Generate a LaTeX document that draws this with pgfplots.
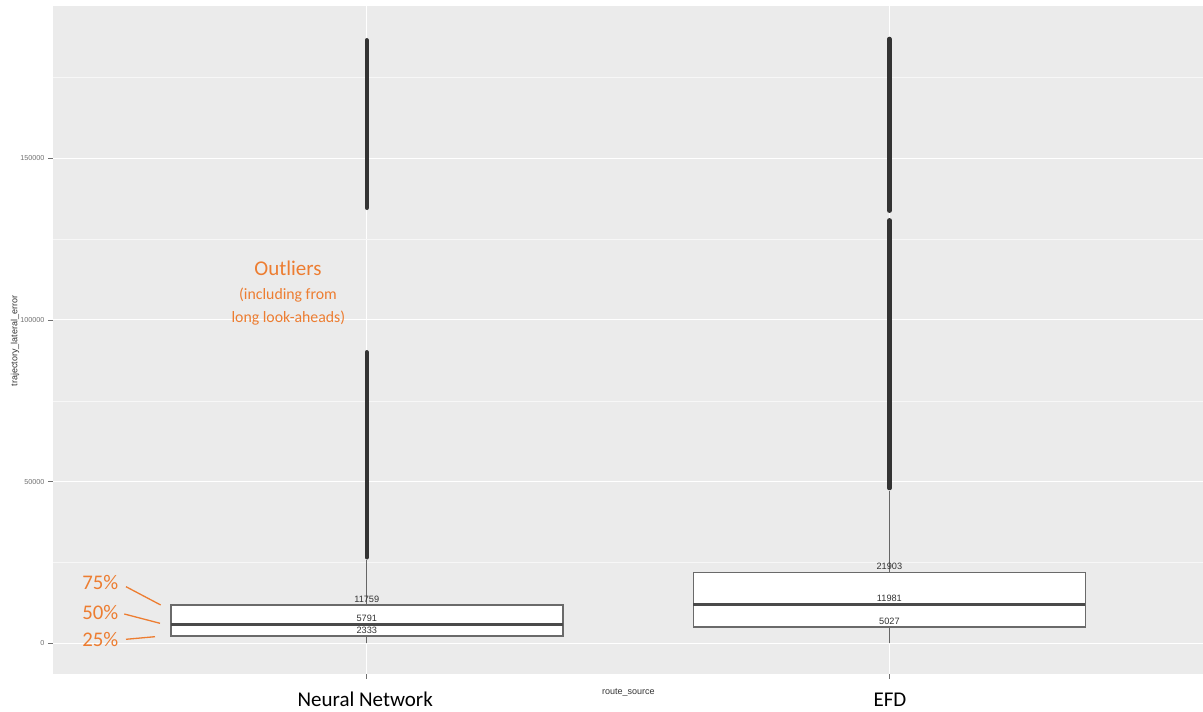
\documentclass[border=0pt]{standalone}
\usepackage{pgfplots}
\usepackage{pgfplotstable}
\pgfplotsset{compat=1.18}
\usepackage{fontspec}
\setmainfont{Liberation Sans}
\newfontfamily\calibri{Carlito}

\definecolor{panelbg}{HTML}{EBEBEB}
\definecolor{accent}{HTML}{ED7D31}
\definecolor{ink}{HTML}{333333}
\definecolor{boxline}{HTML}{6A6A6A}
\definecolor{medianline}{HTML}{4A4A4A}
\definecolor{ticktext}{HTML}{707070}

% quartile values printed above each box
\pgfplotstableread{
pos value
1 2333
1 5791
1 11759
2 5027
2 11981
2 21903
}\quartiles

\begin{document}
\begin{tikzpicture}
\begin{axis}[
  scale only axis,
  width=1149.8pt, height=667.2pt,
  xmin=0.4, xmax=2.6,
  ymin=-9380, ymax=196980,
  axis background/.style={fill=panelbg},
  axis line style={draw=none},
  tick pos=left,
  tick align=outside,
  major tick length=5.3pt,
  minor tick length=0pt,
  tick style={draw=ticktext, line width=0.6pt},
  xtick={1,2},
  xticklabels={,},
  ytick={0,50000,100000,150000},
  minor ytick={25000,75000,125000,175000},
  scaled y ticks=false,
  /pgf/number format/assume math mode=true,
  yticklabel={\pgfmathprintnumber[fixed,precision=0,1000 sep={}]{\tick}},
  yticklabel style={font=\fontsize{7.2}{8}\selectfont, text=ticktext},
  xmajorgrids, ymajorgrids, yminorgrids,
  major grid style={white, line width=1.1pt},
  minor grid style={white!60!panelbg, line width=0.55pt},
]

% whiskers
\addplot[ink!75, line width=1pt] coordinates {(1,0) (1,2333)};
\addplot[ink!75, line width=1pt] coordinates {(1,11759) (1,25898)};
\addplot[ink!75, line width=1pt] coordinates {(2,0) (2,5027)};
\addplot[ink!75, line width=1pt] coordinates {(2,21903) (2,47217)};

% boxes (lower to upper quartile, 0.75 wide)
\addplot[draw=boxline, fill=white, line width=1.8pt]
  coordinates {(0.625,2333) (1.375,2333) (1.375,11759) (0.625,11759)} -- cycle;
\addplot[draw=boxline, fill=white, line width=1.8pt]
  coordinates {(1.625,5027) (2.375,5027) (2.375,21903) (1.625,21903)} -- cycle;

% medians
\addplot[medianline, line width=2.8pt] coordinates {(0.625,5791) (1.375,5791)};
\addplot[medianline, line width=2.8pt] coordinates {(1.625,11981) (2.375,11981)};

% outliers: densely packed points above the upper whiskers
\addplot[ink, line width=4.5pt, line cap=round] coordinates {(1,26600) (1,90000)};
\addplot[ink, line width=4.5pt, line cap=round] coordinates {(1,134700) (1,186500)};
\addplot[ink, line width=4.5pt, line cap=round] coordinates {(2,48000) (2,130800)};
\addplot[ink, line width=4.5pt, line cap=round] coordinates {(2,133800) (2,186900)};

% quartile labels
\addplot[only marks, mark=none, point meta=y,
  nodes near coords={\pgfmathprintnumber[fixed,precision=0,1000 sep={}]{\pgfplotspointmeta}},
  nodes near coords style={font=\fontsize{9.2}{10}\selectfont, text=ink,
    anchor=south, inner sep=0pt, yshift=2.4pt}]
  table[x=pos, y=value] {\quartiles};
\end{axis}

% axis titles
\node[font=\fontsize{9}{10}\selectfont, text=ink, anchor=base] at (575.2pt,-20.7pt) {route\_source};
\node[font=\fontsize{9}{10}\selectfont, text=ink, rotate=90] at (-38.2pt,332.6pt) {trajectory\_lateral\_error};

% category names
\node[font=\calibri\fontsize{21}{24}\selectfont, anchor=base] at (312pt,-33.1pt) {Neural Network};
\node[font=\calibri\fontsize{21}{24}\selectfont, anchor=base] at (836.8pt,-33.1pt) {EFD};

% annotations
\begin{scope}[accent]
\node[font=\calibri\fontsize{21}{24}\selectfont, anchor=base] at (234.8pt,397.6pt) {Outliers};
\node[font=\calibri\fontsize{15.8}{18}\selectfont, anchor=base] at (234.8pt,373.6pt) {(including from};
\node[font=\calibri\fontsize{15.8}{18}\selectfont, anchor=base] at (235.2pt,350.9pt) {long look-aheads)};
\node[font=\calibri\fontsize{20.8}{24}\selectfont, anchor=base] at (47.1pt,83.6pt) {75\%};
\node[font=\calibri\fontsize{20.8}{24}\selectfont, anchor=base] at (47.1pt,53.6pt) {50\%};
\node[font=\calibri\fontsize{20.8}{24}\selectfont, anchor=base] at (47.1pt,26.9pt) {25\%};
\draw[line width=1.3pt] (72.8pt,86.9pt) -- (107.5pt,68.6pt);
\draw[line width=1.3pt] (71.1pt,59.6pt) -- (106.8pt,50.3pt);
\draw[line width=1.3pt] (72.8pt,34.3pt) -- (101.8pt,36.9pt);
\end{scope}

\pgfresetboundingbox
\path (-53.2pt,-38.4pt) rectangle (1149.8pt,673.6pt);
\end{tikzpicture}
\end{document}
